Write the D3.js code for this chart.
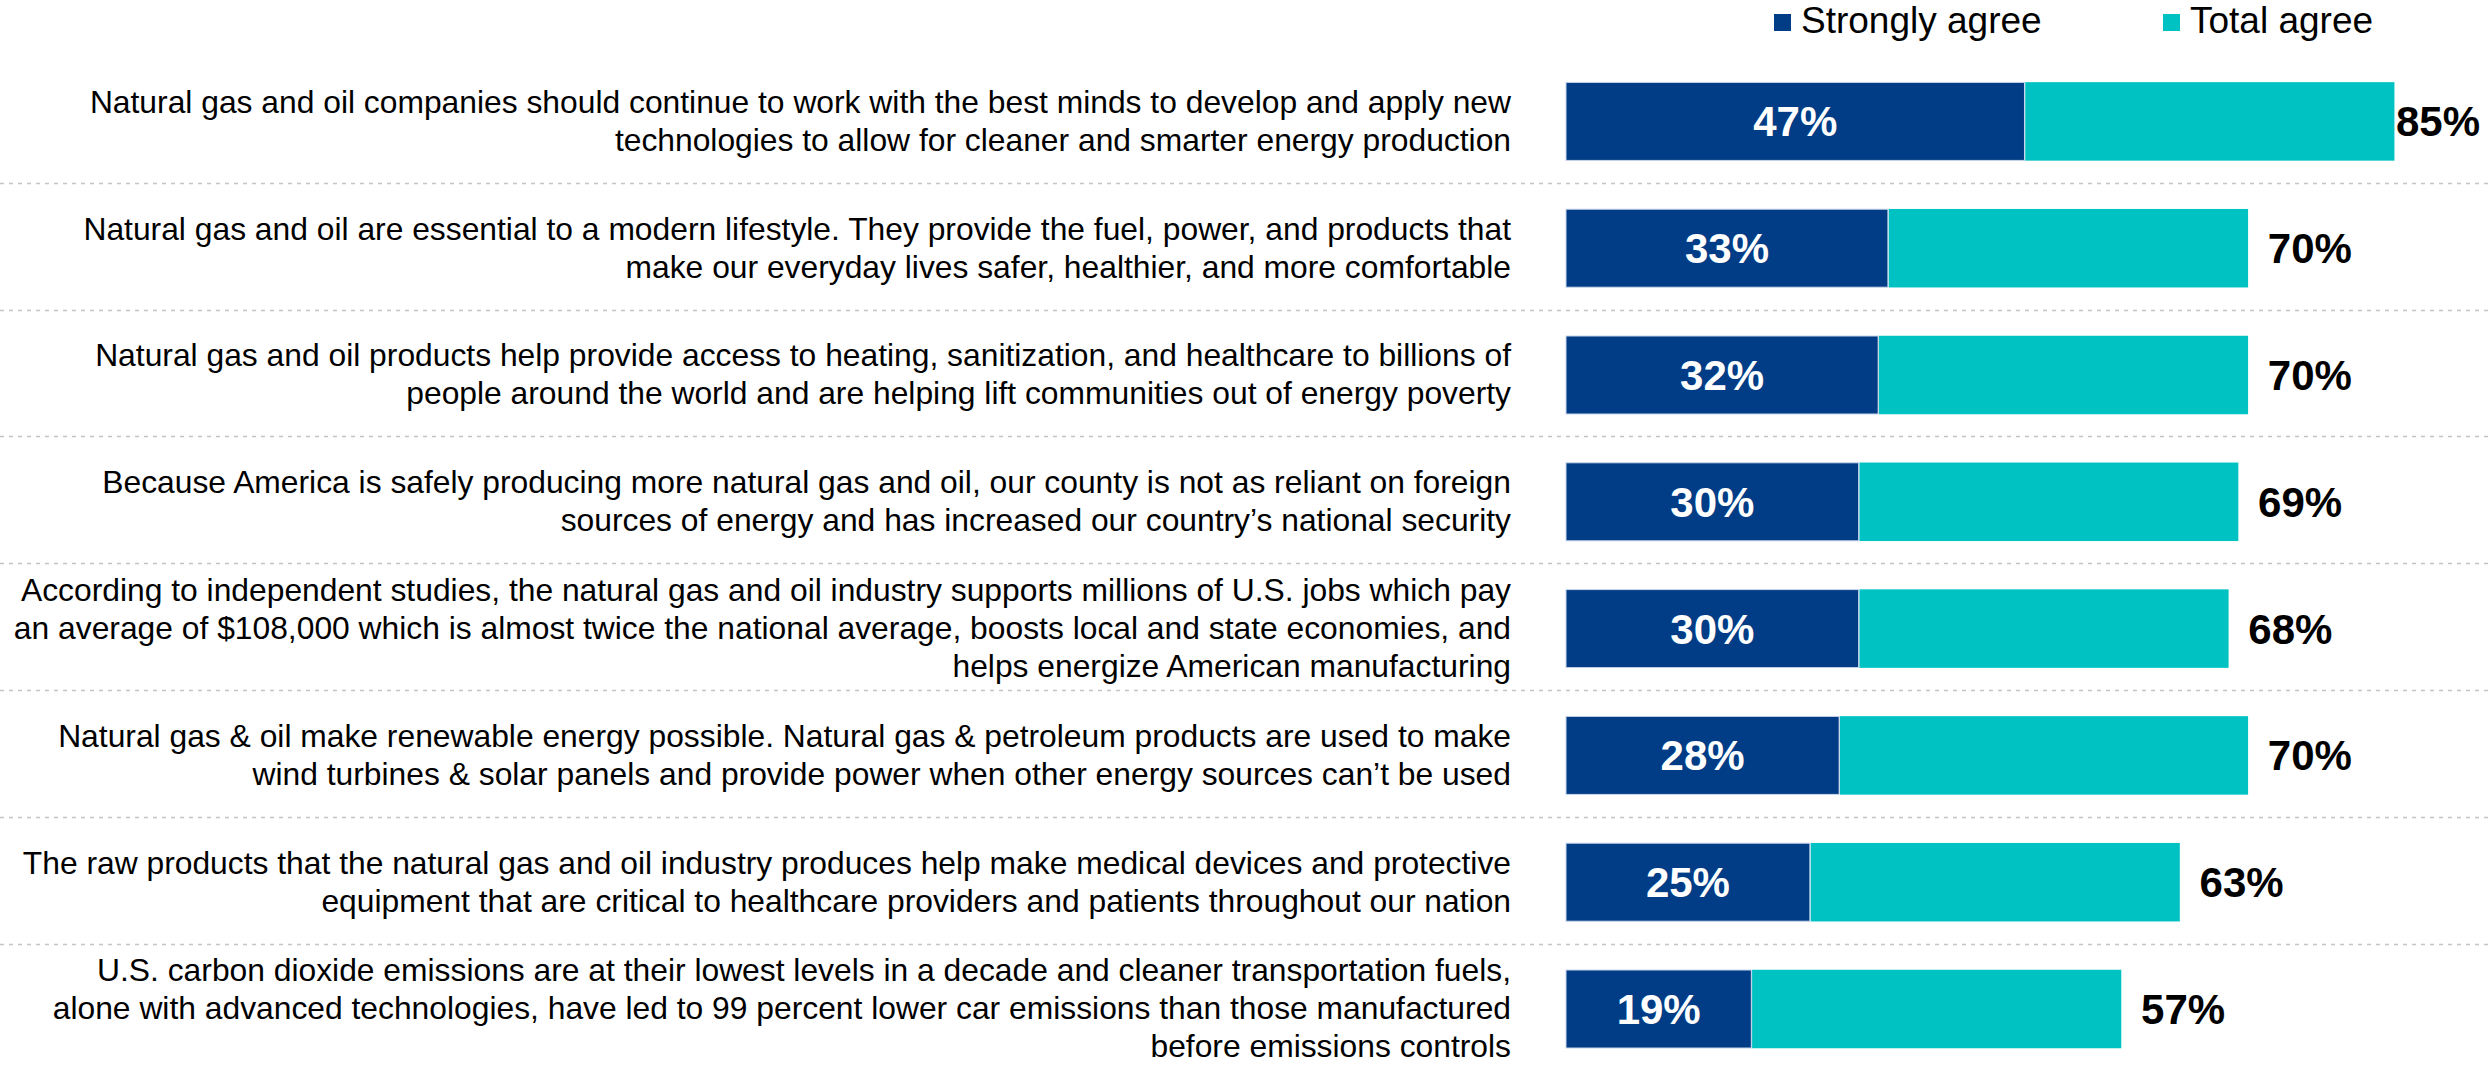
<!DOCTYPE html>
<html>
<head>
<meta charset="utf-8">
<script src="https://cdn.jsdelivr.net/npm/d3@7"></script>
<style>
  html, body { margin: 0; padding: 0; background: #fff; }
  svg { display: block; font-family: Arial, "Liberation Sans", sans-serif; }
</style>
</head>
<body>
<script>
// Statements (line breaks as in the original slide)
var statements = [
  ["Natural gas and oil companies should continue to work with the best minds to develop and apply new",
   "technologies to allow for cleaner and smarter energy production"],
  ["Natural gas and oil are essential to a modern lifestyle. They provide the fuel, power, and products that",
   "make our everyday lives safer, healthier, and more comfortable"],
  ["Natural gas and oil products help provide access to heating, sanitization, and healthcare to billions of",
   "people around the world and are helping lift communities out of energy poverty"],
  ["Because America is safely producing more natural gas and oil, our county is not as reliant on foreign",
   "sources of energy and has increased our country\u2019s national security"],
  ["According to independent studies, the natural gas and oil industry supports millions of U.S. jobs which pay",
   "an average of $108,000 which is almost twice the national average, boosts local and state economies, and",
   "helps energize American manufacturing"],
  ["Natural gas & oil make renewable energy possible. Natural gas & petroleum products are used to make",
   "wind turbines & solar panels and provide power when other energy sources can\u2019t be used"],
  ["The raw products that the natural gas and oil industry produces help make medical devices and protective",
   "equipment that are critical to healthcare providers and patients throughout our nation"],
  ["U.S. carbon dioxide emissions are at their lowest levels in a decade and cleaner transportation fuels,",
   "alone with advanced technologies, have led to 99 percent lower car emissions than those manufactured",
   "before emissions controls"]
];

// Percent agreeing
var stronglyAgree = [47, 33, 32, 30, 30, 28, 25, 19];
var totalAgree = [85, 70, 70, 69, 68, 70, 63, 57];

var seriesNames = ["Strongly agree", "Total agree"];
var seriesColors = ["#003d86", "#00c2c2"];

// Canvas
var width = 2491,
    height = 1071;

var svg = d3.select("body")
    .append("svg")
        .attr("width", width)
        .attr("height", height);

// Scales
var rows = d3.range(statements.length);

var y = d3.scaleBand()
    .domain(rows)
    .range([56, 56 + 126.8 * statements.length]);

var x = d3.scaleLinear()
    .domain([0, 100])
    .range([1566, 1566 + 975.5]);

var barH = 78;
var textRight = 1511;
var fontSize = 31.8,
    lineH = 38;

// Dashed separators between rows
svg.selectAll("line.sep")
    .data(rows.slice(1))
    .enter().append("line")
        .attr("class", "sep")
        .attr("x1", 0)
        .attr("x2", width)
        .attr("y1", function(d) { return Math.round(y(d)) + 0.5; })
        .attr("y2", function(d) { return Math.round(y(d)) + 0.5; })
        .style("stroke", "#c4c4c4")
        .style("stroke-width", 1.5)
        .style("stroke-dasharray", "4,5");

// Row groups
var row = svg.selectAll("g.row")
    .data(rows)
    .enter().append("g")
        .attr("class", "row")
        .attr("transform", function(d) {
            return "translate(0," + (y(d) + y.bandwidth() / 2) + ")";
        });

// Statement text (right aligned, vertically centred)
row.each(function(d) {
    var lines = statements[d];
    var t = d3.select(this).append("text")
        .attr("text-anchor", "end")
        .style("font-size", fontSize + "px")
        .style("fill", "#000");
    var first = 1 - (lines.length - 1) * lineH / 2 + fontSize * 0.36;
    lines.forEach(function(l, i) {
        t.append("tspan")
            .attr("x", textRight)
            .attr("y", first + i * lineH)
            .text(l);
    });
});

// Total agree bars (stacked after the strongly-agree part)
row.append("rect")
    .attr("x", function(d) { return x(stronglyAgree[d]); })
    .attr("y", 2 - barH / 2 - 1)
    .attr("width", function(d) { return x(totalAgree[d]) - x(stronglyAgree[d]); })
    .attr("height", barH + 2)
    .style("fill", seriesColors[1])
    .style("stroke", "#ffffff")
    .style("stroke-width", 1.5);

// Strongly agree bars
row.append("rect")
    .attr("x", x(0))
    .attr("y", 2 - barH / 2)
    .attr("width", function(d) { return x(stronglyAgree[d]) - x(0); })
    .attr("height", barH)
    .style("fill", seriesColors[0])
    .style("stroke", "#c9d6ea")
    .style("stroke-width", 1);

// Labels inside dark bars
row.append("text")
    .attr("x", function(d) { return (x(0) + x(stronglyAgree[d])) / 2; })
    .attr("y", 2 + 15)
    .attr("text-anchor", "middle")
    .style("font-size", "42px")
    .style("font-weight", "bold")
    .style("fill", "#ffffff")
    .text(function(d) { return stronglyAgree[d] + "%"; });

// Total labels after bars
row.append("text")
    .attr("x", function(d) { return Math.min(x(totalAgree[d]) + 19, 2396); })
    .attr("y", 2 + 15)
    .style("font-size", "42px")
    .style("font-weight", "bold")
    .style("fill", "#000000")
    .text(function(d) { return totalAgree[d] + "%"; });

// Legend
var legendX = [1774, 2163];
var legend = svg.selectAll("g.legend")
    .data(seriesNames)
    .enter().append("g")
        .attr("class", "legend")
        .attr("transform", function(d, i) { return "translate(" + legendX[i] + ",0)"; });

legend.append("rect")
    .attr("x", 0)
    .attr("y", 14)
    .attr("width", 17)
    .attr("height", 17)
    .style("fill", function(d, i) { return seriesColors[i]; });

legend.append("text")
    .attr("x", 27)
    .attr("y", 33)
    .style("font-size", "37px")
    .style("fill", "#000")
    .text(function(d) { return d; });
</script>
</body>
</html>
